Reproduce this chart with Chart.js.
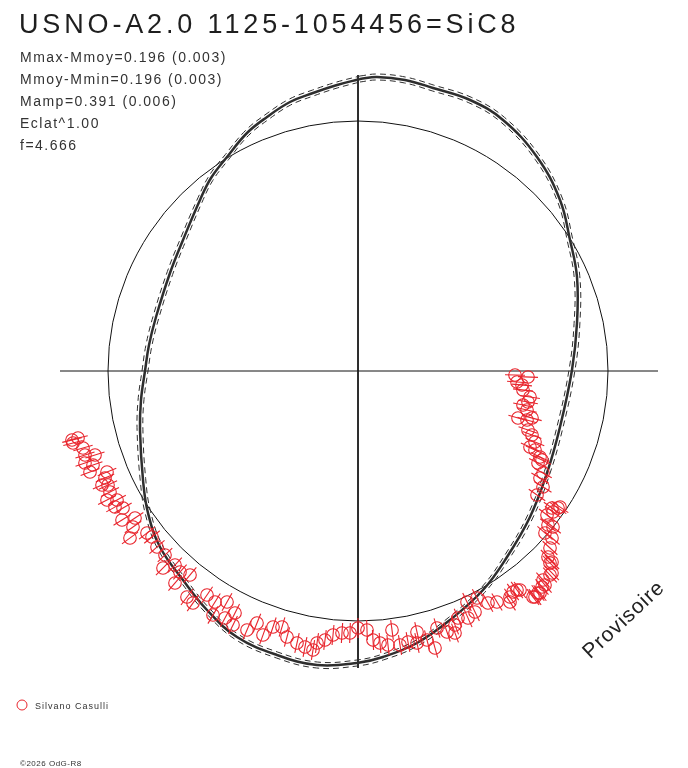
<!DOCTYPE html>
<html>
<head>
<meta charset="utf-8">
<script src="https://cdn.jsdelivr.net/npm/chart.js@4"></script>
<style>
  html, body { margin: 0; padding: 0; background: #fff; }
  #wrap { width: 688px; height: 768px; position: relative; }
</style>
</head>
<body>
<div id="wrap"><canvas id="chart"></canvas></div>
<script>
// Textes
const titleText = 'USNO-A2.0 1125-1054456=SiC8';
const statLines = ['Mmax-Mmoy=0.196 (0.003)', 'Mmoy-Mmin=0.196 (0.003)', 'Mamp=0.391 (0.006)', 'Eclat^1.00', 'f=4.666'];
const observer = 'Silvano Casulli';
const credit = '\u00A92026 OdG-R8';
const stamp = 'Provisoire';

// Cercle de magnitude moyenne, demi-barres d'erreur, enveloppe du fit (unités du graphe)
const meanRadius = 250;
const errHalf = 10;
const fitSigma = 3;

// Courbe ajustée (coordonnées polaires -> x, y)
const curveX = [2, 19, 47, 75, 112, 145, 179, 202, 212, 219, 219, 214, 202, 189, 172, 149, 125, 92, 59, 25, -1, -41, -81, -121, -151, -175, -198, -210, -215, -218, -217, -213, -209, -202, -188, -175, -158, -147, -131, -111, -91, -68, -45, -21, 2];
const curveY = [292, 294, 291, 283, 271, 251, 214, 171, 131, 94, 48, 1, -56, -102, -146, -186, -219, -249, -272, -286, -292, -294, -284, -266, -239, -209, -176, -142, -109, -59, -29, 0, 26, 54, 98, 131, 171, 193, 214, 238, 254, 269, 278, 286, 292];

// Mesures (Silvano Casulli)
const obsX = [-286, -280, -285, -275, -273, -263, -273, -265, -268, -251, -253, -256, -250, -248, -251, -241, -243, -235, -236, -223, -225, -228, -211, -206,
  -201, -193, -195, -183, -178, -168, -183, -171, -165, -151, -143, -131, -145, -133, -123, -125, -111, -101, -95, -85, -76, -71, -61, -53, -45, -41, -33, -25, -16, -8, 0, 9,
  15, 22, 30, 34, 42, 50, 59, 59, 69, 77, 79, 89, 97, 97, 100, 110, 117, 109, 119, 130, 139, 152, 155, 162, 152, 159, 177, 182, 175, 180, 184, 185, 187, 194, 192, 194, 192,
  190, 192, 194, 187, 195, 190, 189, 194, 200, 202, 195, 179, 185, 182, 185, 180, 184, 182, 177, 172, 177, 174, 170, 169, 174, 160, 169, 165, 170, 172, 165, 164, 159, 170, 157];
const obsY = [-69, -67, -72, -77, -84, -84, -92, -94, -101, -101, -107, -114, -114, -121, -129, -129, -136, -137, -149, -147, -156, -167, -162, -166,
  -176, -184, -197, -194, -201, -204, -212, -226, -232, -224, -231, -231, -244, -247, -242, -254, -259, -252, -264, -256, -256, -266, -272, -276, -279, -272, -269, -264, -262, -262, -257, -259,
  -269, -272, -274, -259, -274, -271, -261, -272, -269, -277, -257, -261, -262, -254, -247, -247, -241, -231, -227, -232, -231, -231, -221, -219, -226, -219, -226, -222, -226, -222, -216, -209, -214, -202, -204, -191, -192,
  -186, -177, -167, -162, -156, -154, -144, -137, -137, -136, -141, -124, -116, -107, -102, -92, -89, -86, -79, -76, -71, -64, -59, -49, -47, -47, -39, -34, -31, -26, -19, -14, -11, -6, -4];

const red = 'rgb(232,36,44)';
const dark = '#2e2e2e';

const curve = curveX.map((x, i) => ({ x: x, y: curveY[i] }));
function envelope(d) {
  return curve.map(p => {
    const r = Math.hypot(p.x, p.y);
    return { x: p.x * (r + d) / r, y: p.y * (r + d) / r };
  });
}
const obs = obsX.map((x, i) => ({ x: x, y: obsY[i] }));

// cercle moyen + barres d'erreur radiales
const polarDecor = {
  id: 'polarDecor',
  beforeDatasetsDraw(chart) {
    const { ctx, scales: { x, y } } = chart;
    const cx = x.getPixelForValue(0), cy = y.getPixelForValue(0);
    const r = x.getPixelForValue(meanRadius) - cx;
    ctx.save();
    ctx.strokeStyle = '#111';
    ctx.lineWidth = 1;
    ctx.beginPath();
    ctx.arc(cx, cy, r, 0, Math.PI * 2);
    ctx.stroke();
    ctx.restore();
  },
  afterDatasetsDraw(chart) {
    const { ctx, scales: { x, y } } = chart;
    const cx = x.getPixelForValue(0), cy = y.getPixelForValue(0);
    const k = x.getPixelForValue(errHalf) - cx;
    const meta = chart.getDatasetMeta(0);
    ctx.save();
    ctx.strokeStyle = red;
    ctx.lineWidth = 1.1;
    meta.data.forEach(el => {
      const dx = el.x - cx, dy = el.y - cy;
      const d = Math.hypot(dx, dy);
      const ux = dx / d, uy = dy / d;
      ctx.beginPath();
      ctx.moveTo(el.x - ux * k, el.y - uy * k);
      ctx.lineTo(el.x + ux * k, el.y + uy * k);
      ctx.stroke();
    });
    ctx.restore();
  }
};

const labels = {
  id: 'labels',
  afterDraw(chart) {
    const ctx = chart.ctx;
    ctx.save();
    ctx.fillStyle = '#1e1e1e';
    ctx.textBaseline = 'alphabetic';
    ctx.textAlign = 'left';
    ctx.font = '27px "Liberation Sans", Arial, sans-serif';
    ctx.letterSpacing = '3.85px';
    ctx.fillText(titleText, 19, 33);

    ctx.font = '14px "Liberation Sans", Arial, sans-serif';
    ctx.letterSpacing = '1.5px';
    ctx.fillStyle = '#333';
    statLines.forEach((s, i) => ctx.fillText(s, 20, 62 + 22 * i));

    ctx.strokeStyle = red;
    ctx.lineWidth = 1;
    ctx.beginPath();
    ctx.arc(22, 705, 5, 0, Math.PI * 2);
    ctx.stroke();
    ctx.font = '9px "Liberation Sans", Arial, sans-serif';
    ctx.letterSpacing = '1px';
    ctx.fillText(observer, 35, 709);

    ctx.font = '8px "Liberation Sans", Arial, sans-serif';
    ctx.letterSpacing = '0.5px';
    ctx.fillText(credit, 20, 766);

    ctx.translate(624, 620);
    ctx.rotate(-43 * Math.PI / 180);
    ctx.textAlign = 'center';
    ctx.textBaseline = 'middle';
    ctx.font = '21px "Liberation Sans", Arial, sans-serif';
    ctx.letterSpacing = '1px';
    ctx.fillStyle = '#222';
    ctx.fillText(stamp, 0, 0);
    ctx.restore();
  }
};

new Chart(document.getElementById('chart'), {
  type: 'scatter',
  data: {
    datasets: [
      {
        data: obs,
        pointStyle: 'circle',
        pointRadius: 6.3,
        pointBorderColor: red,
        pointBackgroundColor: 'rgba(0,0,0,0)',
        pointBorderWidth: 1.1
      },
      {
        data: curve,
        showLine: true,
        tension: 0.4,
        borderColor: dark,
        borderWidth: 2.5,
        pointRadius: 0
      },
      {
        data: envelope(fitSigma),
        showLine: true,
        tension: 0.4,
        borderColor: dark,
        borderWidth: 1,
        borderDash: [6, 4],
        pointRadius: 0
      },
      {
        data: envelope(-fitSigma),
        showLine: true,
        tension: 0.4,
        borderColor: dark,
        borderWidth: 1,
        borderDash: [6, 4],
        pointRadius: 0
      },
      {
        data: [{ x: -298, y: 0 }, { x: 300, y: 0 }],
        showLine: true,
        borderColor: '#111',
        borderWidth: 1,
        pointRadius: 0
      },
      {
        data: [{ x: 0, y: 296 }, { x: 0, y: -297 }],
        showLine: true,
        borderColor: '#111',
        borderWidth: 1,
        pointRadius: 0
      }
    ]
  },
  options: {
    responsive: true,
    maintainAspectRatio: false,
    animation: false,
    layout: { padding: { left: 58, right: 30, top: 71, bottom: 97 } },
    scales: {
      x: { type: 'linear', min: -300, max: 300, display: false },
      y: { type: 'linear', min: -300, max: 300, display: false }
    },
    plugins: {
      legend: { display: false },
      tooltip: { enabled: false }
    }
  },
  plugins: [polarDecor, labels]
});
</script>
</body>
</html>
